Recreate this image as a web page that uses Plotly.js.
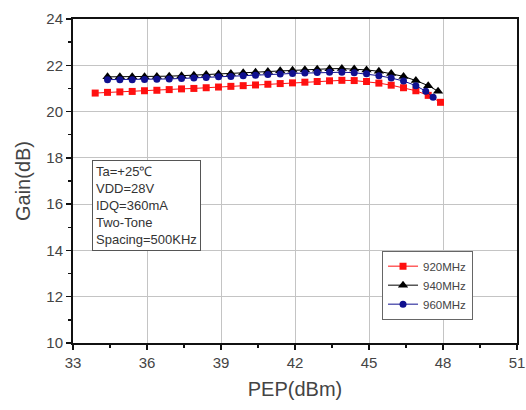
<!DOCTYPE html>
<html>
<head>
<meta charset="utf-8">
<script src="https://cdn.plot.ly/plotly-3.0.1.min.js"></script>
<style>html,body{margin:0;padding:0;background:#fff;}#chart{width:526px;height:410px;}</style>
</head>
<body>
<div id="chart"></div>
<script>
const x920 = [33.9,34.4,34.9,35.4,35.9,36.4,36.9,37.4,37.9,38.4,38.9,39.4,39.9,40.4,40.9,41.4,41.9,42.4,42.9,43.4,43.9,44.4,44.9,45.4,45.9,46.4,46.9,47.4,47.9];
const y920 = [20.80,20.83,20.85,20.87,20.90,20.92,20.95,20.98,21.00,21.03,21.06,21.09,21.12,21.15,21.18,21.21,21.24,21.27,21.30,21.33,21.35,21.34,21.30,21.23,21.14,21.03,20.90,20.70,20.40];
const x940 = [34.4,34.9,35.4,35.9,36.4,36.9,37.4,37.9,38.4,38.9,39.4,39.9,40.4,40.9,41.4,41.9,42.4,42.9,43.4,43.9,44.4,44.9,45.4,45.9,46.4,46.9,47.4,47.8];
const y940 = [21.50,21.50,21.50,21.51,21.52,21.53,21.55,21.57,21.60,21.62,21.65,21.68,21.70,21.73,21.76,21.79,21.81,21.83,21.85,21.86,21.84,21.80,21.74,21.64,21.52,21.34,21.12,20.88];
const x960 = [34.4,34.9,35.4,35.9,36.4,36.9,37.4,37.9,38.4,38.9,39.4,39.9,40.4,40.9,41.4,41.9,42.4,42.9,43.4,43.9,44.4,44.9,45.4,45.9,46.4,46.9,47.3,47.6];
const y960 = [21.38,21.38,21.38,21.39,21.40,21.41,21.43,21.45,21.47,21.50,21.52,21.55,21.57,21.60,21.62,21.65,21.67,21.69,21.70,21.70,21.68,21.63,21.55,21.45,21.32,21.12,20.88,20.62];
const seriesNames = ['920MHz','940MHz','960MHz'];
const xTicks = [33,36,39,42,45,48,51];
const yTicks = [10,12,14,16,18,20,22,24];
const noteLines = ['Ta=+25\u2103','VDD=28V','IDQ=360mA','Two-Tone','Spacing=500KHz'];

const traces = [
  {x:x920,y:y920,name:seriesNames[0],mode:'lines+markers',line:{color:'#ff1010',width:1},marker:{symbol:'square',size:7,color:'#ff1010'}},
  {x:x940,y:y940,name:seriesNames[1],mode:'lines+markers',line:{color:'#000000',width:1},marker:{symbol:'triangle-up',size:9,color:'#000000'}},
  {x:x960,y:y960,name:seriesNames[2],mode:'lines+markers',line:{color:'#10108f',width:1},marker:{symbol:'circle',size:7,color:'#10108f'}}
];
const axisCommon = {
  showline:true, linecolor:'#111', linewidth:2, mirror:true,
  ticks:'outside', ticklen:5, tickwidth:1.5, tickcolor:'#111',
  showgrid:true, gridcolor:'#c4c4c4', gridwidth:1, zeroline:false,
  tickfont:{family:'Liberation Sans, Arial, sans-serif', size:15, color:'#444'}
};
const layout = {
  width:526, height:410,
  margin:{l:73,r:9,t:19,b:67},
  paper_bgcolor:'#fff', plot_bgcolor:'#fff',
  font:{family:'Liberation Sans, Arial, sans-serif'},
  xaxis:Object.assign({}, axisCommon, {
    range:[33,51], tickvals:xTicks, ticktext:xTicks.map(String),
    minor:{dtick:1.5, tick0:33, ticks:'outside', ticklen:3, tickcolor:'#111', showgrid:false},
    title:{text:'PEP(dBm)', font:{size:20, color:'#444'}, standoff:12}
  }),
  yaxis:Object.assign({}, axisCommon, {
    range:[10,24], tickvals:yTicks, ticktext:yTicks.map(String),
    minor:{dtick:1, tick0:10, ticks:'outside', ticklen:3, tickcolor:'#111', showgrid:false},
    title:{text:'Gain(dB)', font:{size:20, color:'#444'}, standoff:10}
  }),
  showlegend:true,
  legend:{x:0.696, y:0.285, xanchor:'left', yanchor:'top', bgcolor:'#fff', bordercolor:'#666', borderwidth:1,
    font:{size:11.5, color:'#444'}, tracegroupgap:0, itemwidth:30},
  annotations:[{
    xref:'paper', yref:'paper', x:0.043, y:0.565, xanchor:'left', yanchor:'top',
    text:noteLines.join('<br>'), align:'left', showarrow:false,
    font:{size:13, color:'#333'}, bordercolor:'#555', borderwidth:1, borderpad:3, bgcolor:'#fff'
  }]
};
Plotly.newPlot('chart', traces, layout, {displayModeBar:false, staticPlot:true});
</script>
</body>
</html>
